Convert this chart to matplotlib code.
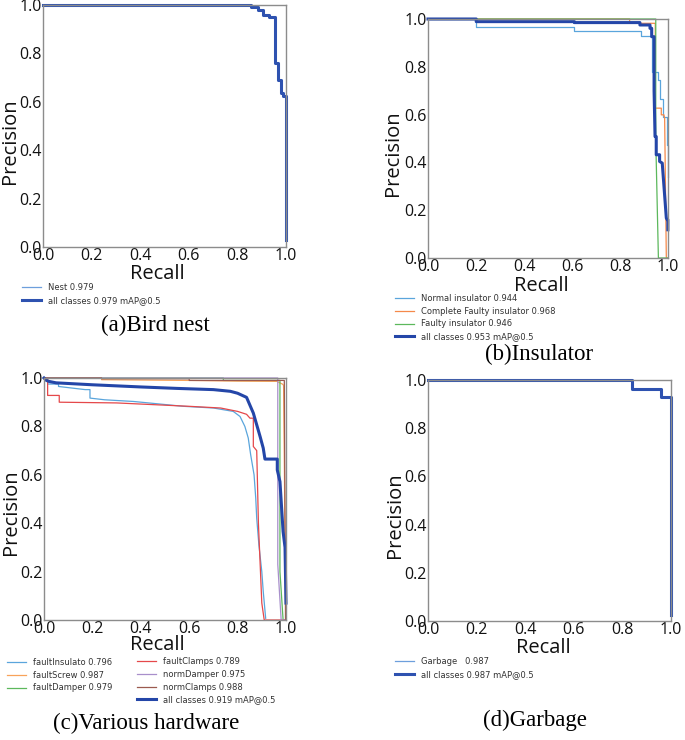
import numpy as np
import matplotlib
matplotlib.use('Agg')
import matplotlib.pyplot as plt
from matplotlib.ticker import FormatStrFormatter

# ---- data (recall / precision vertices) ----
# (a) Bird nest
nest_r = [0, 0.858, 0.858, 0.886, 0.886, 0.907, 0.907, 0.93, 0.93, 0.956, 0.956,
          0.968, 0.968, 0.978, 0.978, 0.986, 0.986, 0.999, 0.999]
nest_p = [1, 1, 0.99, 0.99, 0.978, 0.978, 0.96, 0.96, 0.95, 0.95, 0.762,
          0.762, 0.69, 0.69, 0.635, 0.635, 0.625, 0.625, 0.03]

# (b) Insulator
normal_r = [0, 0.201, 0.201, 0.61, 0.61, 0.886, 0.886, 0.935, 0.935, 0.957, 0.957,
            0.967, 0.967, 0.979, 0.979, 0.994, 0.994, 1.0, 1.0]
normal_p = [1, 1, 0.965, 0.965, 0.951, 0.951, 0.929, 0.929, 0.777, 0.777, 0.745,
            0.745, 0.664, 0.664, 0.591, 0.591, 0.473, 0.473, 0.34]
complete_r = [0, 0.84, 0.84, 0.947, 0.947, 0.972, 0.972, 0.983, 0.986, 0.993, 1.0]
complete_p = [1, 1, 0.982, 0.982, 0.627, 0.627, 0.599, 0.599, 0.585, 0.0, 0.0]
faulty_r = [0, 0.949, 0.949, 0.96, 1.0]
faulty_p = [1, 1, 0.494, 0.0, 0.0]
all_b_r = [0, 0.201, 0.201, 0.61, 0.61, 0.883, 0.883, 0.925, 0.925, 0.932, 0.932,
           0.942, 0.942, 0.946, 0.951, 0.951, 0.965, 0.965, 0.976, 0.993, 0.997,
           0.9995, 0.9995]
all_b_p = [1, 1, 0.989, 0.989, 0.985, 0.985, 0.975, 0.975, 0.961, 0.961, 0.926,
           0.926, 0.70, 0.508, 0.508, 0.432, 0.432, 0.404, 0.397, 0.167, 0.16,
           0.16, 0.118]

# (c) Various hardware
finsul_r = [0, 0.015, 0.015, 0.06, 0.06, 0.17, 0.19, 0.19, 0.25, 0.37, 0.576, 0.7,
            0.782, 0.81, 0.83, 0.844, 0.854, 0.868, 0.875, 0.879, 0.888, 0.9,
            0.906, 0.916]
finsul_p = [1, 1, 0.975, 0.975, 0.965, 0.952, 0.952, 0.917, 0.91, 0.903, 0.883,
            0.876, 0.862, 0.841, 0.80, 0.752, 0.683, 0.60, 0.503, 0.42, 0.31, 0.2,
            0.117, 0.007]
fscrew_r = [0, 0.238, 0.238, 0.6, 0.8, 0.962, 0.985, 0.99, 0.996, 1.0]
fscrew_p = [1, 1, 0.993, 0.99, 0.987, 0.986, 0.975, 0.97, 0.35, 0.0]
fdamper_r = [0, 0.741, 0.741, 0.975, 0.975, 0.988, 1.0]
fdamper_p = [1, 1, 0.99, 0.99, 0.2, 0.0, 0.0]
fclamps_r = [0, 0.015, 0.015, 0.063, 0.063, 0.3, 0.45, 0.6, 0.73, 0.8, 0.837,
             0.851, 0.865, 0.865, 0.879, 0.886, 0.9, 0.91, 1.0]
fclamps_p = [1, 1, 0.928, 0.928, 0.90, 0.897, 0.89, 0.883, 0.876, 0.862, 0.85,
             0.834, 0.834, 0.717, 0.70, 0.40, 0.07, 0.0, 0.0]
ndamper_r = [0, 0.966, 0.966, 0.98, 1.0]
ndamper_p = [1, 1, 0.23, 0.0, 0.0]
nclamps_r = [0, 0.238, 0.238, 0.6, 0.6, 0.993, 0.998]
nclamps_p = [1, 1, 0.997, 0.997, 0.99, 0.99, 0.0]
all_c_r = [0, 0.01, 0.02, 0.05, 0.2, 0.4, 0.55, 0.7, 0.77, 0.8, 0.837, 0.865,
           0.893, 0.906, 0.913, 0.964, 0.964, 0.975, 0.988, 0.996, 1.0]
all_c_p = [1, 0.99, 0.986, 0.98, 0.972, 0.963, 0.957, 0.952, 0.945, 0.937, 0.92,
           0.855, 0.758, 0.71, 0.665, 0.665, 0.62, 0.572, 0.365, 0.3, 0.07]

# (d) Garbage
garb_r = [0, 0.838, 0.838, 0.959, 0.959, 0.999, 0.999]
garb_p = [1, 1, 0.963, 0.963, 0.928, 0.928, 0.025]

ALL_COLOR = '#2446a8'
TICK_FONT = 'Open Sans'
SERIF = 'Liberation Serif'

fig = plt.figure(figsize=(6.85, 7.4), dpi=100)
W, H = 685.0, 740.0


def make_axes(left, top, right, bottom):
    return fig.add_axes([left / W, 1 - bottom / H, (right - left) / W, (bottom - top) / H])


def style_axes(ax, xlab, ylab):
    ax.set_xlim(0, 1)
    ax.set_ylim(0, 1)
    ticks = np.arange(0, 1.01, 0.2)
    ax.set_xticks(ticks)
    ax.set_yticks(ticks)
    ax.xaxis.set_major_formatter(FormatStrFormatter('%.1f'))
    ax.yaxis.set_major_formatter(FormatStrFormatter('%.1f'))
    ax.tick_params(length=0, pad=1, labelsize=11.5, colors='#111111')
    for lab in ax.get_xticklabels() + ax.get_yticklabels():
        lab.set_fontfamily(TICK_FONT)
    for s in ax.spines.values():
        s.set_color('#8c8c8c')
        s.set_linewidth(1.0)
    ax.set_xlabel('Recall', fontsize=14.5, family=TICK_FONT, va='center', color='#111111')
    ax.xaxis.set_label_coords(*xlab)
    ax.set_ylabel('Precision', fontsize=14.5, family=TICK_FONT, va='center', color='#111111')
    ax.yaxis.set_label_coords(*ylab)


def add_legend(ax, handles, x, y, **kw):
    leg = ax.legend(handles=handles, loc='upper left',
                    bbox_to_anchor=(x / W, 1 - y / H), bbox_transform=fig.transFigure,
                    frameon=False, fontsize=6, borderpad=0, borderaxespad=0,
                    handlelength=2.3, handletextpad=0.8, labelspacing=0.45,
                    labelcolor='#333333', **kw)
    return leg


# (a) Bird nest
ax_a = make_axes(43, 5, 286, 247)
l1, = ax_a.plot(nest_r, nest_p, color='#6d9fdc', lw=0.9, label='Nest 0.979', clip_on=False)
l2, = ax_a.plot(nest_r, nest_p, color='#2e52b0', lw=2.2, label='all classes 0.979 mAP@0.5',
                clip_on=False)
style_axes(ax_a, (0.469, -0.111), (-0.136, 0.436))
add_legend(ax_a, [l1, l2], 22, 283)

# (b) Insulator
ax_b = make_axes(428, 19, 668, 258)
b1, = ax_b.plot(normal_r, normal_p, color='#5aa5dc', lw=0.9, label='Normal insulator 0.944',
                clip_on=False)
b2, = ax_b.plot(complete_r, complete_p, color='#f5894a', lw=0.9,
                label='Complete Faulty insulator 0.968', clip_on=False)
b3, = ax_b.plot(faulty_r, faulty_p, color='#5cb85c', lw=0.9, label='Faulty insulator 0.946',
                clip_on=False)
b4, = ax_b.plot(all_b_r, all_b_p, color=ALL_COLOR, lw=2.2, label='all classes 0.953 mAP@0.5',
                clip_on=False)
style_axes(ax_b, (0.473, -0.117), (-0.144, 0.439))
add_legend(ax_b, [b1, b2, b3, b4], 395, 294)

# (c) Various hardware
ax_c = make_axes(44, 378, 286, 620)
c1, = ax_c.plot(finsul_r, finsul_p, color='#5aa5dc', lw=0.9, label='faultInsulato 0.796',
                clip_on=False)
c2, = ax_c.plot(fscrew_r, fscrew_p, color='#f8a35a', lw=0.9, label='faultScrew 0.987',
                clip_on=False)
c3, = ax_c.plot(fdamper_r, fdamper_p, color='#5cb85c', lw=0.9, label='faultDamper 0.979',
                clip_on=False)
c4, = ax_c.plot(fclamps_r, fclamps_p, color='#e5484a', lw=0.9, label='faultClamps 0.789',
                clip_on=False)
c5, = ax_c.plot(ndamper_r, ndamper_p, color='#a88fcb', lw=0.9, label='normDamper 0.975',
                clip_on=False)
c6, = ax_c.plot(nclamps_r, nclamps_p, color='#9b5a4f', lw=0.9, label='normClamps 0.988',
                clip_on=False)
c7, = ax_c.plot(all_c_r, all_c_p, color=ALL_COLOR, lw=2.2, label='all classes 0.919 mAP@0.5',
                clip_on=False)
style_axes(ax_c, (0.467, -0.103), (-0.136, 0.445))
leg_c1 = add_legend(ax_c, [c1, c2, c3], 7, 658)
ax_c.add_artist(leg_c1)
add_legend(ax_c, [c4, c5, c6, c7], 137, 657)

# (d) Garbage
ax_d = make_axes(428, 380, 671, 621)
d1, = ax_d.plot(garb_r, garb_p, color='#6d9fdc', lw=0.9, label='Garbage   0.987', clip_on=False)
d2, = ax_d.plot(garb_r, garb_p, color='#2e52b0', lw=2.2, label='all classes 0.987 mAP@0.5',
                clip_on=False)
style_axes(ax_d, (0.473, -0.114), (-0.136, 0.44))
add_legend(ax_d, [d1, d2], 395, 657)

# captions
for txt, x, y in [('(a)Bird nest', 155, 325), ('(b)Insulator', 539, 354),
                  ('(c)Various hardware', 146, 723), ('(d)Garbage', 535, 720)]:
    fig.text(x / W, 1 - y / H, txt, ha='center', va='center', fontsize=16.5, family=SERIF)

fig.savefig('out.png', dpi=100)
